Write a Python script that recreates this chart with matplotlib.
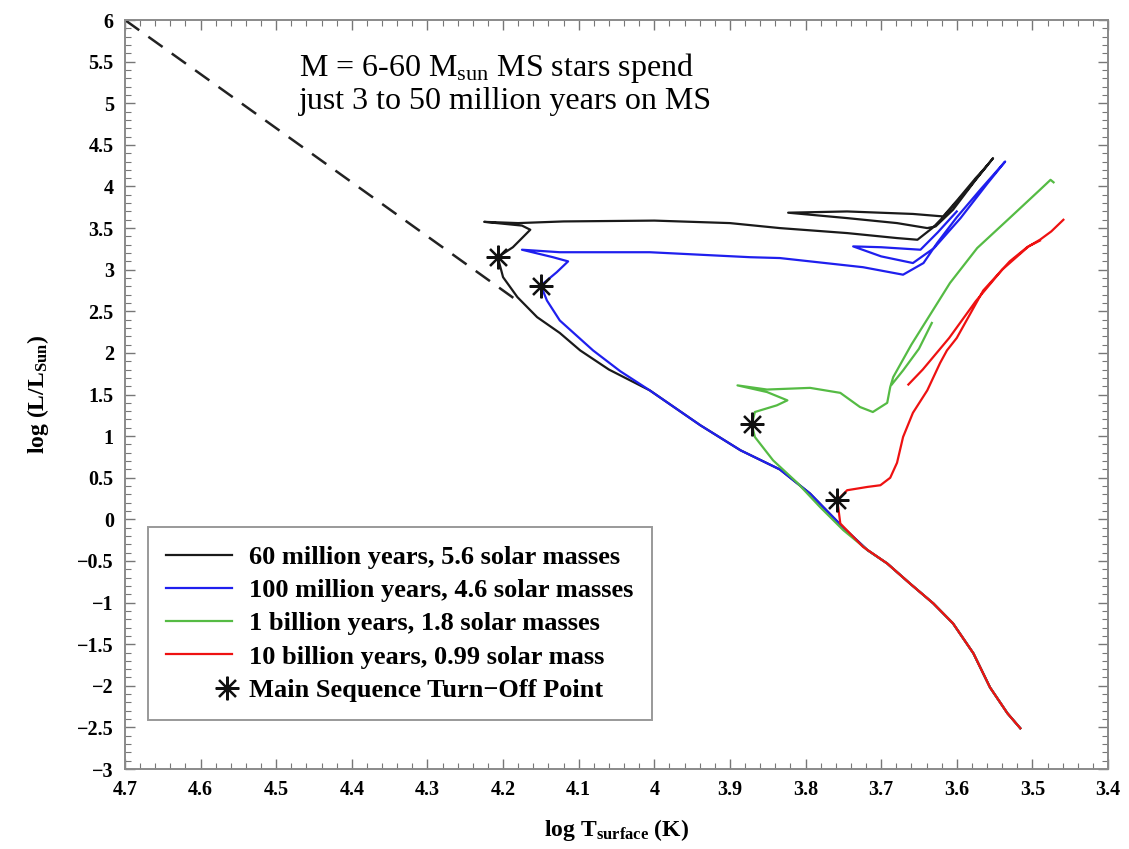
import numpy as np
import matplotlib
matplotlib.use('Agg')
from matplotlib import pyplot as plt
from matplotlib.ticker import MultipleLocator, FuncFormatter
from matplotlib.legend_handler import HandlerLine2D

plt.rcParams['font.family'] = ['Liberation Serif', 'DejaVu Serif']
plt.rcParams['mathtext.fontset'] = 'custom'
plt.rcParams['mathtext.rm'] = 'Liberation Serif'
plt.rcParams['mathtext.bf'] = 'Liberation Serif:bold'
plt.rcParams['mathtext.it'] = 'Liberation Serif:italic'

nan = np.nan

# 60 Myr isochrone (5.6 solar masses at turn-off)
black_x = [3.516, 3.533, 3.556, 3.578, 3.605, 3.631, 3.662, 3.692, 3.718, 3.750,
           3.794, 3.834, 3.886, 3.939, 4.006, 4.060, 4.098, 4.125, 4.155, 4.181,
           4.200, 4.207, 4.187, 4.164, 4.175, 4.225, 4.180, 4.120, 4.000, 3.900,
           3.834, 3.745, 3.679, 3.652, 3.631, 3.613, 3.586, 3.552, 3.575, 3.605,
           3.628, 3.639, 3.679, 3.745, 3.823, 3.745, 3.658, 3.618, 3.598, 3.575,
           3.560]
black_y = [-2.51, -2.33, -2.02, -1.61, -1.25, -1.01, -0.77, -0.53, -0.37, -0.10,
           0.31, 0.60, 0.83, 1.13, 1.55, 1.80, 2.03, 2.24, 2.43, 2.67,
           2.91, 3.15, 3.27, 3.48, 3.53, 3.575, 3.56, 3.58, 3.59, 3.56,
           3.50, 3.44, 3.38, 3.36, 3.51, 3.68, 3.96, 4.34, 4.08, 3.72,
           3.52, 3.50, 3.56, 3.62, 3.685, 3.70, 3.67, 3.64, 3.85, 4.10,
           4.25]

# 100 Myr isochrone (4.6 solar masses)
blue_x = [3.516, 3.533, 3.556, 3.578, 3.605, 3.631, 3.662, 3.692, 3.718, 3.750,
          3.794, 3.834, 3.886, 3.939, 4.006, 4.045, 4.081, 4.125, 4.142, 4.150,
          4.129, 4.114, 4.134, 4.175, 4.125, 4.006, 3.873, 3.834, 3.724, 3.671,
          3.644, 3.626, 3.600, 3.569, 3.536, 3.560, 3.595, 3.630, 3.658, 3.700,
          3.737, 3.700, 3.648, 3.625, 3.600]
blue_y = [-2.51, -2.33, -2.02, -1.61, -1.25, -1.01, -0.77, -0.53, -0.37, -0.10,
          0.31, 0.60, 0.83, 1.13, 1.55, 1.78, 2.03, 2.39, 2.63, 2.81,
          2.97, 3.10, 3.15, 3.24, 3.21, 3.21, 3.15, 3.14, 3.03, 2.94,
          3.08, 3.32, 3.63, 3.96, 4.30, 4.03, 3.62, 3.26, 3.08, 3.16,
          3.28, 3.27, 3.24, 3.45, 3.70]

# 1 Gyr isochrone (1.8 solar masses)
green_x = [3.516, 3.533, 3.556, 3.578, 3.605, 3.631, 3.662, 3.692, 3.718, 3.750,
           3.781, 3.811, 3.843, 3.867, 3.871, 3.867, 3.838, 3.824, 3.851, 3.890,
           3.851, 3.794, 3.754, 3.728, 3.711, 3.692, 3.688, 3.684, 3.660, 3.609,
           3.573, 3.529, 3.490, 3.476, 3.472, nan, 3.686, 3.671, 3.650, 3.633]
green_y = [-2.51, -2.33, -2.02, -1.61, -1.25, -1.01, -0.77, -0.53, -0.37, -0.13,
           0.15, 0.44, 0.71, 0.99, 1.14, 1.29, 1.37, 1.43, 1.53, 1.61,
           1.56, 1.58, 1.52, 1.35, 1.29, 1.40, 1.59, 1.71, 2.10, 2.84,
           3.26, 3.63, 3.96, 4.08, 4.05, nan, 1.62, 1.79, 2.05, 2.36]

# 10 Gyr isochrone (0.99 solar mass)
red_x = [3.516, 3.533, 3.556, 3.578, 3.605, 3.631, 3.662, 3.692, 3.724, 3.754,
         3.758, 3.745, 3.718, 3.701, 3.688, 3.679, 3.671, 3.658, 3.639, 3.622,
         3.613, 3.600, 3.565, 3.530, 3.507, 3.490, 3.475, 3.459, nan,
         3.664, 3.645, 3.610, 3.575, 3.540, 3.505, 3.490]
red_y = [-2.51, -2.33, -2.02, -1.61, -1.25, -1.01, -0.77, -0.53, -0.33, -0.05,
         0.23, 0.35, 0.39, 0.41, 0.50, 0.68, 0.99, 1.28, 1.55, 1.88,
         2.03, 2.18, 2.75, 3.10, 3.27, 3.36, 3.46, 3.60, nan,
         1.62, 1.80, 2.18, 2.62, 3.00, 3.28, 3.35]

# main sequence turn-off points
turnoff_x = [4.207, 4.150, 3.871, 3.758]
turnoff_y = [3.15, 2.81, 1.14, 0.23]

# zero-age MS extension
zams_x = [4.70, 4.18]
zams_y = [6.00, 2.62]

labels = ['60 million years, 5.6 solar masses',
          '100 million years, 4.6 solar masses',
          '1 billion years, 1.8 solar masses',
          '10 billion years, 0.99 solar mass',
          'Main Sequence Turn\u2212Off Point']


class MarkerRight(HandlerLine2D):
    # put the single marker at the right end of the handle, next to the text
    def get_xdata(self, legend, xdescent, ydescent, width, height, fontsize):
        xm = -xdescent + width * 0.93
        return [xm - 1, xm + 1], [xm]


fig = plt.figure(figsize=(11.29, 8.49), dpi=100)
ax = fig.add_axes([0.1107, 0.0942, 0.8707, 0.8822])

ax.plot(zams_x, zams_y, c='#222222', lw=1.8, ls=(0, (7, 4.5)))
l1, = ax.plot(black_x, black_y, c='#1a1a1a', lw=1.6)
l2, = ax.plot(blue_x, blue_y, c='#1f1fee', lw=1.6)
l3, = ax.plot(green_x, green_y, c='#55bb44', lw=1.6)
l4, = ax.plot(red_x, red_y, c='#ee1111', lw=1.6)
stars, = ax.plot(turnoff_x, turnoff_y, ls='none', marker=(8, 2, 0), ms=17,
                 mec='#111111', mew=1.6, c='#111111')

ax.set_xlim(4.7, 3.4)
ax.set_ylim(-3, 6)

ax.xaxis.set_major_locator(MultipleLocator(0.1))
ax.xaxis.set_minor_locator(MultipleLocator(0.02))
ax.yaxis.set_major_locator(MultipleLocator(0.5))
ax.yaxis.set_minor_locator(MultipleLocator(0.1))
fmt = FuncFormatter(lambda v, p: '{:g}'.format(round(v, 2)).replace('-', '\u2212'))
ax.xaxis.set_major_formatter(fmt)
ax.yaxis.set_major_formatter(fmt)

ax.tick_params(which='both', direction='in', top=True, right=True, color='#777777')
ax.tick_params(which='major', length=7, width=1.0, labelsize=14.5, pad=8)
ax.tick_params(which='minor', length=4, width=0.8)
for lab in ax.get_xticklabels() + ax.get_yticklabels():
    lab.set_fontweight('bold')
for sp in ax.spines.values():
    sp.set_color('#8a8a8a')
    sp.set_linewidth(1.4)

ax.set_xlabel(r'log T$_{\mathbf{surface}}$ (K)', fontsize=17, fontweight='bold', labelpad=12)
ax.set_ylabel(r'log (L/L$_{\mathbf{Sun}}$)', fontsize=17, fontweight='bold', labelpad=19)

ax.text(4.47, 5.63, 'M = 6-60 M$_{\\mathrm{sun}}$ MS stars spend\njust 3 to 50 million years on MS',
        fontsize=23, va='top', ha='left', linespacing=1.08)

leg = ax.legend([l1, l2, l3, l4, stars], labels, loc='lower left',
                bbox_to_anchor=(0.023, 0.065), borderaxespad=0, fancybox=False,
                edgecolor='#999999', framealpha=1, handlelength=2.5,
                handletextpad=0.65, borderpad=0.7, labelspacing=0.37,
                prop={'weight': 'bold', 'size': 19},
                handler_map={stars: MarkerRight(numpoints=1)})
leg.get_frame().set_linewidth(1.4)

fig.savefig('out.png', dpi=100)
